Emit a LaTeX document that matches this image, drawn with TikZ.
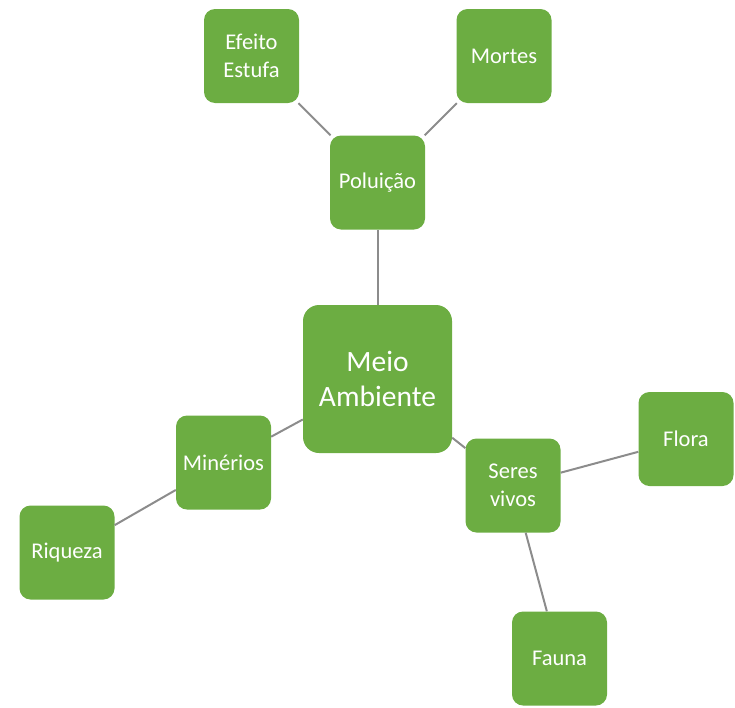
\documentclass[tikz,border=0pt]{standalone}
\usepackage{fontspec}
\setmainfont{Carlito}
\usepackage{tikz}
\definecolor{boxgreen}{RGB}{108,173,66}
\definecolor{linkgray}{RGB}{140,140,140}

\begin{document}
\begin{tikzpicture}[x=1pt, y=-1pt]
    \tikzstyle{topic} = [rectangle, rounded corners=11pt, fill=boxgreen, text=white, align=center, inner sep=0pt, minimum width=95pt, minimum height=94pt, font=\fontsize{22.5}{28}\selectfont]
    \tikzstyle{hub} = [topic, rounded corners=16pt, minimum width=149pt, minimum height=148pt, font=\fontsize{29.5}{35}\selectfont]
    \tikzstyle{link} = [draw=linkgray, line width=2pt]

    \useasboundingbox (0,0) rectangle (735,707);

    % Centre
    \node[hub] (meio) at (377.5,379) {Meio\\Ambiente};

    % Branches
    \node[topic] (pol) at (377.5,182.5) {Poluição};
    \node[topic] (efeito) at (251.5,56) {Efeito\\Estufa};
    \node[topic] (mortes) at (504,56) {Mortes};
    \node[topic] (min) at (223.5,462.5) {Minérios};
    \node[topic] (riq) at (67,552.5) {Riqueza};
    \node[topic] (seres) at (513,485.5) {Seres\\vivos};
    \node[topic] (flora) at (686,439) {Flora};
    \node[topic] (fauna) at (559.5,658.5) {Fauna};

    % Links
    \draw[link] (meio) -- (pol);
    \draw[link] (pol) -- (efeito);
    \draw[link] (pol) -- (mortes);
    \draw[link] (meio) -- (min);
    \draw[link] (min) -- (riq);
    \draw[link] (meio) -- (seres);
    \draw[link] (seres) -- (flora);
    \draw[link] (seres) -- (fauna);

\end{tikzpicture}
\end{document}
